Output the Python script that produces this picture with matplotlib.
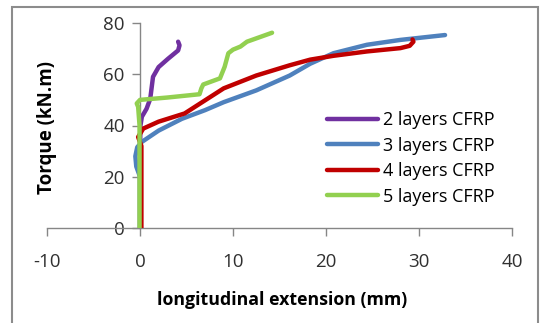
import matplotlib.pyplot as plt
from matplotlib.patches import Rectangle

plt.rcParams['font.family'] = ['Open Sans', 'DejaVu Sans']
plt.rcParams['axes.unicode_minus'] = False

# extension (mm) / torque (kN.m)
ext_2 = [0.0, 0.0, 0.05, 0.2, 0.7, 1.1, 1.4, 2.0, 3.0, 4.1, 4.25, 4.1]
tor_2 = [0.0, 30.0, 40.0, 43.4, 46.5, 50.4, 59.0, 62.8, 66.0, 69.3, 71.3, 72.7]

ext_3 = [0.0, 0.0, -0.4, -0.5, -0.3, 0.2, 2.0, 4.5, 7.0, 9.0, 12.5, 16.1, 18.3,
         20.8, 24.4, 28.0, 32.8]
tor_3 = [0.0, 20.0, 24.0, 28.0, 31.5, 33.6, 38.0, 42.6, 46.0, 49.1, 53.7, 59.5, 64.1,
         68.2, 71.5, 73.4, 75.3]

ext_4 = [0.15, 0.15, -0.2, 0.35, 2.0, 4.8, 9.0, 12.5, 16.1, 18.3, 20.8, 24.4, 28.0,
         29.0, 29.4, 29.3]
tor_4 = [0.0, 32.0, 35.5, 38.8, 41.5, 44.7, 54.5, 59.5, 63.5, 65.7, 67.2, 68.9, 70.2,
         71.1, 72.7, 73.6]

ext_5 = [-0.05, -0.05, -0.2, -0.35, 0.0, 2.9, 6.4, 6.6, 6.8, 8.6, 9.1, 9.5, 10.0,
         10.8, 11.5, 14.2]
tor_5 = [0.0, 40.0, 47.3, 48.6, 50.0, 50.9, 52.2, 54.5, 56.0, 58.4, 62.9, 68.2, 69.6,
         70.8, 72.7, 76.2]

series = [
    ("2 layers CFRP", ext_2, tor_2, "#7030A0"),
    ("3 layers CFRP", ext_3, tor_3, "#4F81BD"),
    ("4 layers CFRP", ext_4, tor_4, "#C00000"),
    ("5 layers CFRP", ext_5, tor_5, "#92D050"),
]

fig = plt.figure(figsize=(5.42, 3.23), dpi=100)
fig.patches.append(Rectangle((12 / 542, -0.1), 526 / 542, 1.1 - 7 / 323,
                             transform=fig.transFigure, fill=False,
                             edgecolor="#8c8c8c", lw=1.5))

ax = fig.add_axes([47 / 542, 1 - 228 / 323, 465 / 542, 205 / 323])
for label, x, y, c in series:
    ax.plot(x, y, color=c, lw=3.2, label=label, zorder=3,
            solid_capstyle="round", solid_joinstyle="round")

ax.set_xlim(-10, 40)
ax.set_ylim(0, 80)
ax.set_xticks(range(-10, 41, 10))
ax.set_yticks(range(0, 81, 20))
ax.spines["left"].set_position(("data", 0))
ax.spines["bottom"].set_position(("data", 0))
ax.spines["top"].set_visible(False)
ax.spines["right"].set_visible(False)
for s in ("left", "bottom"):
    ax.spines[s].set_color("#868686")
    ax.spines[s].set_linewidth(1.0)
ax.tick_params(axis="both", colors="#868686", labelcolor="#303030",
               labelsize=13.5, length=6, width=1.0, direction="out")
ax.tick_params(axis="x", pad=12)
ax.tick_params(axis="y", pad=5)
ax.patch.set_visible(False)

fig.text(282 / 542, 1 - 300 / 323, "longitudinal extension (mm)",
         ha="center", va="center", fontsize=12.8, fontweight="bold")
fig.text(47 / 542, 1 - 127 / 323, "Torque (kN.m)", rotation=90,
         ha="center", va="center", fontsize=13.5, fontweight="bold")

ax.legend(loc="upper left", bbox_to_anchor=(327 / 542, 1 - 111 / 323),
          bbox_transform=fig.transFigure, frameon=False, fontsize=13,
          handlelength=2.8, handletextpad=0.3, labelspacing=0.42,
          borderpad=0, borderaxespad=0)

fig.savefig("out.png", dpi=100)
